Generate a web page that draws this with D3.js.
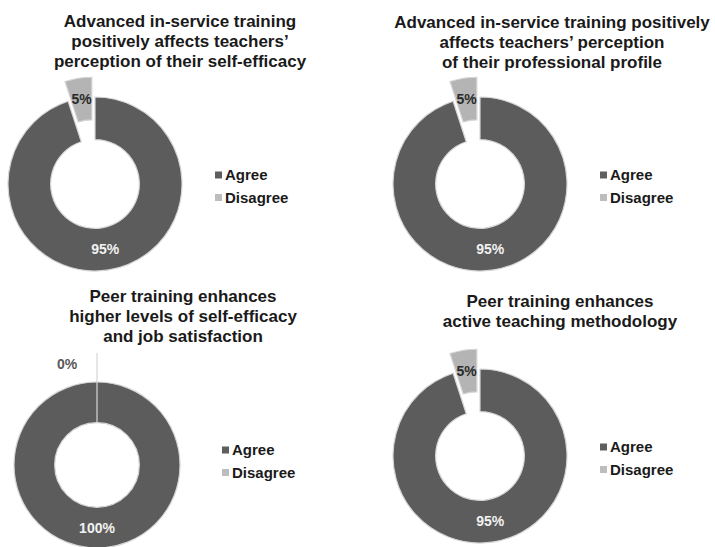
<!DOCTYPE html>
<html>
<head>
<meta charset="utf-8">
<script src="https://cdn.jsdelivr.net/npm/d3@7"></script>
<style>
  html, body { margin: 0; padding: 0; background: #fff; }
  svg { display: block; }
</style>
</head>
<body>
<div id="chart"></div>
<script>
// chart data
const categories = ['Agree', 'Disagree'];
const titles = [
  ['Advanced in-service training', 'positively affects teachers\u2019', 'perception of their self-efficacy'],
  ['Advanced in-service training positively', 'affects teachers\u2019 perception', 'of their professional profile'],
  ['Peer training enhances', 'higher levels of self-efficacy', 'and job satisfaction'],
  ['Peer training enhances', 'active teaching methodology']
];
const agreeValues = [95, 95, 100, 95];
const disagreeValues = [5, 5, 0, 5];

// layout of each panel (centre, radius, title and legend anchors)
const panels = [
  { cx: 95,  cy: 184, R: 87, explode: 20, tx: 180, ty: 27,  lx: 215, ly: 175 },
  { cx: 480, cy: 184, R: 87, explode: 20, tx: 552, ty: 28,  lx: 600, ly: 175 },
  { cx: 97,  cy: 465, R: 83, explode: 29, tx: 183, ty: 302, lx: 222, ly: 450 },
  { cx: 480, cy: 456, R: 87, explode: 20, tx: 560, ty: 307, lx: 600, ly: 447 }
];

const width = 715, height = 547;
const font = '"Liberation Sans", Arial, sans-serif';

const color = d3.scaleOrdinal().domain(categories).range(['#5c5c5c', '#b4b4b4']);
const legendColor = d3.scaleOrdinal().domain(categories).range(['#5e5e5e', '#bdbdbd']);

const svg = d3.select('#chart').append('svg')
  .attr('width', width)
  .attr('height', height);

const pie = d3.pie().sort(null).value(d => d.value);

panels.forEach((p, i) => {
  const g = svg.append('g');

  // title
  g.append('text')
    .attr('x', p.tx)
    .attr('y', p.ty)
    .attr('text-anchor', 'middle')
    .attr('font-family', font)
    .attr('font-size', 17)
    .attr('font-weight', 'bold')
    .attr('fill', '#1a1a1a')
    .selectAll('tspan')
    .data(titles[i])
    .enter()
    .append('tspan')
    .attr('x', p.tx)
    .attr('dy', (d, j) => j === 0 ? 0 : 20)
    .text(d => d);

  const data = [
    { cat: categories[0], value: agreeValues[i] },
    { cat: categories[1], value: disagreeValues[i] }
  ];
  const arcs = pie(data);
  const arc = d3.arc().innerRadius(p.R * 0.51).outerRadius(p.R);
  // an empty slice shows up as a thin spoke reaching past the ring
  const spoke = d3.arc().innerRadius(p.R * 0.51).outerRadius(p.R + p.explode);

  const offset = d => {
    if (d.data.cat !== 'Disagree' || d.data.value === 0) return [0, 0];
    const a = (d.startAngle + d.endAngle) / 2;
    return [Math.sin(a) * p.explode, -Math.cos(a) * p.explode];
  };

  const pieG = g.append('g').attr('transform', `translate(${p.cx},${p.cy})`);

  pieG.selectAll('path')
    .data(arcs)
    .enter()
    .append('path')
    .attr('d', d => d.data.value === 0 ? spoke(d) : arc(d))
    .attr('transform', d => `translate(${offset(d)})`)
    .attr('fill', d => color(d.data.cat))
    .attr('stroke', '#d6d6d6')
    .attr('stroke-width', 1.2);

  // value labels
  pieG.selectAll('.lbl')
    .data(arcs)
    .enter()
    .append('text')
    .attr('class', 'lbl')
    .attr('transform', d => {
      const c = arc.centroid(d);
      const o = offset(d);
      let x = c[0] + o[0], y = c[1] + o[1];
      if (d.data.value === 0) { x -= 30; y -= 38; }
      return `translate(${x},${y})`;
    })
    .attr('dy', '0.35em')
    .attr('text-anchor', 'middle')
    .attr('font-family', font)
    .attr('font-size', 14)
    .attr('font-weight', 'bold')
    .attr('fill', d => d.data.cat === 'Agree' ? '#f2f2f2' : (d.data.value === 0 ? '#5a5a5a' : '#2a2a2a'))
    .text(d => d.data.value + '%');

  // legend
  const lg = g.append('g').attr('transform', `translate(${p.lx},${p.ly})`);
  const items = lg.selectAll('g')
    .data(categories)
    .enter()
    .append('g')
    .attr('transform', (d, j) => `translate(0,${j * 22.5})`);
  items.append('rect')
    .attr('x', 0)
    .attr('y', -3.5)
    .attr('width', 7)
    .attr('height', 7)
    .attr('fill', d => legendColor(d));
  items.append('text')
    .attr('x', 10)
    .attr('dy', '0.36em')
    .attr('font-family', font)
    .attr('font-size', 15)
    .attr('font-weight', 'bold')
    .attr('fill', '#1a1a1a')
    .text(d => d);
});
</script>
</body>
</html>
